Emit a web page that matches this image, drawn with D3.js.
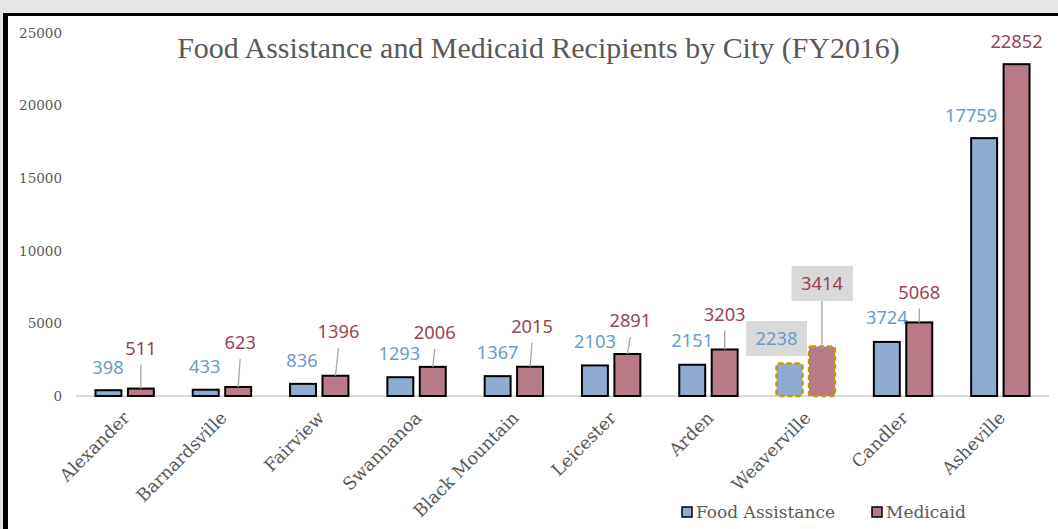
<!DOCTYPE html>
<html>
<head>
<meta charset="utf-8">
<script src="https://cdn.jsdelivr.net/npm/d3@7"></script>
<style>
  body { margin: 0; background: #e6e6e6; }
  svg { display: block; }
</style>
</head>
<body>
<svg id="chart" width="1058" height="529"></svg>
<script>
// data
var cities = ['Alexander', 'Barnardsville', 'Fairview', 'Swannanoa', 'Black Mountain',
              'Leicester', 'Arden', 'Weaverville', 'Candler', 'Asheville'];
var foodAssistance = [398, 433, 836, 1293, 1367, 2103, 2151, 2238, 3724, 17759];
var medicaid = [511, 623, 1396, 2006, 2015, 2891, 3203, 3414, 5068, 22852];
var seriesNames = ['Food Assistance', 'Medicaid'];
var yTicks = [0, 5000, 10000, 15000, 20000, 25000];
var highlighted = 'Weaverville';

// label placement (pixels above bar top, horizontal nudge)
var foodLift = [23, 23, 23, 24, 24, 24, 24, 25, 24, 23];
var foodNudge = [-0.5, -1, -1, -1, 0, 0, 0, -13, 0, -13];
var medLift = [40, 44, 44, 34, 40, 33, 35, 63, 30, 23];
var medNudge = [0, 2, 3, 2, 2, 3, 0, 0, 0, 0];

var colors = { fill: ['#8fabcf', '#b77b87'], text: ['#6a9dca', '#974456'] };
var serif = '"DejaVu Serif", "Liberation Serif", serif';
var titleFont = '"Liberation Serif", "DejaVu Serif", serif';
var sans = '"Noto Sans", "Open Sans", sans-serif';

var svg = d3.select('#chart');

// frame
svg.append('rect').attr('x', 3).attr('y', 13).attr('width', 1055).attr('height', 516).attr('fill', '#fff');
svg.append('rect').attr('x', 3).attr('y', 13).attr('width', 5).attr('height', 516).attr('fill', '#000');
svg.append('rect').attr('x', 3).attr('y', 13).attr('width', 1055).attr('height', 3).attr('fill', '#000');

var x0 = d3.scaleBand().domain(cities).range([76, 1049]).paddingInner(0.4).paddingOuter(0.2);
var x1 = d3.scaleBand().domain(seriesNames).range([0, x0.bandwidth()]).paddingInner(0.2);
var y = d3.scaleLinear().domain([0, 25000]).range([396, 33]);

// y axis labels
var yAxis = svg.append('g').attr('transform', 'translate(62,0)')
    .call(d3.axisLeft(y).tickValues(yTicks).tickFormat(d3.format('d')).tickSize(0).tickPadding(0));
yAxis.select('.domain').remove();
yAxis.selectAll('text').attr('font-family', serif).attr('font-size', 13.5).attr('fill', '#595959');

// baseline
svg.append('line').attr('x1', 76).attr('x2', 1049).attr('y1', y(0)).attr('y2', y(0))
    .attr('stroke', '#d9d9d9').attr('stroke-width', 2);

// title
var title = svg.append('text').attr('x', 538.5).attr('y', 58).attr('text-anchor', 'middle')
    .attr('font-family', titleFont).attr('font-size', 26).attr('fill', '#595959')
    .text('Food Assistance and Medicaid Recipients by City (FY2016)');
var tw = title.node().getComputedTextLength();
title.attr('font-size', 26 * 723 / tw);

var rows = cities.map(function (c, i) {
    return { city: c, i: i, values: [foodAssistance[i], medicaid[i]] };
});

var groups = svg.selectAll('g.city').data(rows).enter().append('g')
    .attr('class', 'city')
    .attr('transform', function (d) { return 'translate(' + x0(d.city) + ',0)'; });

groups.each(function (d) {
    var g = d3.select(this);
    var hl = d.city === highlighted;
    seriesNames.forEach(function (s, k) {
        var v = d.values[k];
        var bx = x1(s), bw = x1.bandwidth(), cx = bx + bw / 2;
        g.append('rect')
            .attr('x', bx).attr('y', y(v))
            .attr('width', bw).attr('height', y(0) - y(v))
            .attr('rx', hl ? 2 : 0)
            .attr('fill', colors.fill[k])
            .attr('stroke', hl ? '#c49a00' : '#000')
            .attr('stroke-width', hl ? 2.5 : 2)
            .attr('stroke-dasharray', hl ? '5,3' : null);

        var lift = k === 0 ? foodLift[d.i] : medLift[d.i];
        var nudge = k === 0 ? foodNudge[d.i] : medNudge[d.i];
        var lx = cx + nudge, ly = y(v) - lift;

        if (k === 1 && lift > 26) {
            g.append('line')
                .attr('x1', lx).attr('y1', ly + 16)
                .attr('x2', cx).attr('y2', y(v))
                .attr('stroke', '#a6a6a6').attr('stroke-width', 1.3);
        }
        var lab = g.append('text')
            .attr('x', lx).attr('y', ly).attr('dy', '0.35em')
            .attr('text-anchor', 'middle')
            .attr('font-family', sans).attr('font-size', 18.3)
            .attr('fill', colors.text[k])
            .text(v);
        if (hl) {
            var bb = lab.node().getBBox();
            g.insert('rect', function () { return lab.node(); })
                .attr('x', bb.x - 9.5).attr('y', ly - 17.5)
                .attr('width', bb.width + 19).attr('height', 35)
                .attr('fill', '#d9d9d9');
        }
    });
});

// category labels
svg.selectAll('text.cat').data(cities).enter().append('text')
    .attr('class', 'cat')
    .attr('transform', function (d) {
        return 'translate(' + (x0(d) + x0.bandwidth() / 2 + 6) + ',419) rotate(-45)';
    })
    .attr('text-anchor', 'end')
    .attr('font-family', serif).attr('font-size', 17.5).attr('fill', '#595959')
    .text(function (d) { return d; });

// legend
var legendX = [682, 872];
var legend = svg.selectAll('g.legend').data(seriesNames).enter().append('g')
    .attr('class', 'legend')
    .attr('transform', function (d, i) { return 'translate(' + legendX[i] + ',507)'; });
legend.append('rect').attr('width', 10).attr('height', 10)
    .attr('fill', function (d, i) { return colors.fill[i]; })
    .attr('stroke', '#000').attr('stroke-width', 1.5);
legend.append('text').attr('x', 14).attr('y', 11)
    .attr('font-family', serif).attr('font-size', 17).attr('fill', '#595959')
    .text(function (d) { return d; });
</script>
</body>
</html>
